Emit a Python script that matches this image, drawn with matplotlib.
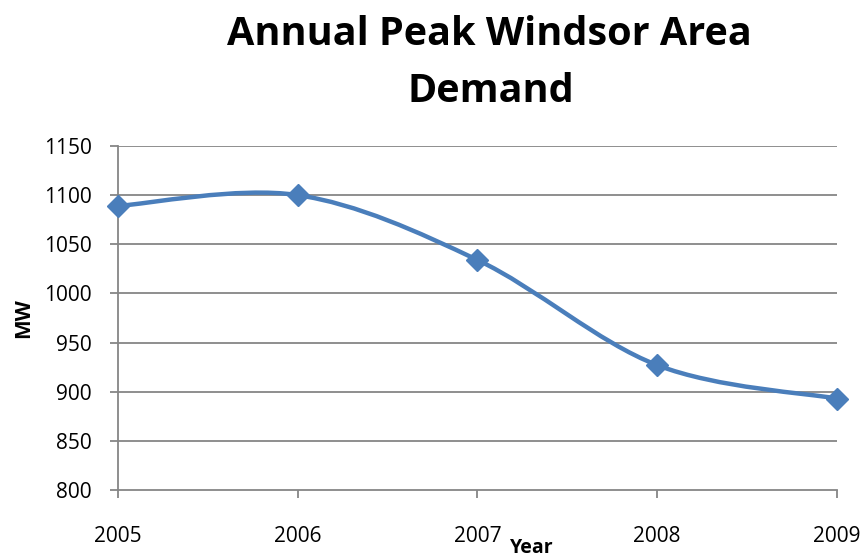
import numpy as np
import matplotlib.pyplot as plt
from matplotlib.path import Path
from matplotlib.patches import PathPatch

plt.rcParams['font.family'] = ['Open Sans', 'DejaVu Sans']

years = [2005, 2006, 2007, 2008, 2009]
demand_mw = [1089, 1100, 1034, 927, 893]
y_ticks = [800, 850, 900, 950, 1000, 1050, 1100, 1150]

line_col = '#4a7ebb'
grid_col = '#868686'


def smooth_path(x, y):
    # excel style smoothed line: bezier segments, catmull-rom control points
    pts = np.column_stack([x, y]).astype(float)
    n = len(pts)
    verts = [pts[0]]
    codes = [Path.MOVETO]
    for i in range(n - 1):
        p0 = pts[max(i - 1, 0)]
        p1 = pts[i]
        p2 = pts[i + 1]
        p3 = pts[min(i + 2, n - 1)]
        c1 = p1 + (p2 - p0) / 6.0
        c2 = p2 - (p3 - p1) / 6.0
        verts += [c1, c2, p2]
        codes += [Path.CURVE4] * 3
    return Path(verts, codes)


fig = plt.figure(figsize=(8.65, 5.58), dpi=100)
ax = fig.add_axes([0.1364, 0.1219, 0.8312, 0.6165])

ax.set_xlim(years[0], years[-1])
ax.set_ylim(y_ticks[0], y_ticks[-1])
ax.set_yticks(y_ticks)
ax.set_xticks(years)
ax.set_xticklabels([str(y) for y in years])

for v in y_ticks[1:]:
    ax.axhline(v, color=grid_col, lw=1.3, zorder=1)

patch = PathPatch(smooth_path(years, demand_mw), facecolor='none',
                  edgecolor=line_col, lw=3.2, zorder=3, capstyle='round')
ax.add_patch(patch)
ax.plot(years, demand_mw, linestyle='none', marker='D', markersize=11.5,
        color=line_col, zorder=4, clip_on=False)

for side in ['top', 'right']:
    ax.spines[side].set_visible(False)
for side in ['left', 'bottom']:
    ax.spines[side].set_color(grid_col)
    ax.spines[side].set_linewidth(1.3)

ax.tick_params(axis='both', colors=grid_col, width=1.3, length=6,
               labelcolor='black', labelsize=15)
ax.tick_params(axis='x', pad=20)
ax.tick_params(axis='y', pad=13)

fig.text(24 / 865, 1 - 318 / 558, 'MW', rotation=90, fontsize=15, fontweight='bold',
         ha='center', va='center')
fig.text(532 / 865, 1 - 548 / 558, 'Year', fontsize=14, fontweight='bold',
         ha='center', va='center')

fig.text(489 / 865, 1 - 45 / 558, 'Annual Peak Windsor Area', fontsize=28.5,
         fontweight='bold', ha='center', va='baseline')
fig.text(491 / 865, 1 - 102 / 558, 'Demand', fontsize=28.5,
         fontweight='bold', ha='center', va='baseline')

fig.savefig('out.png', dpi=100)
